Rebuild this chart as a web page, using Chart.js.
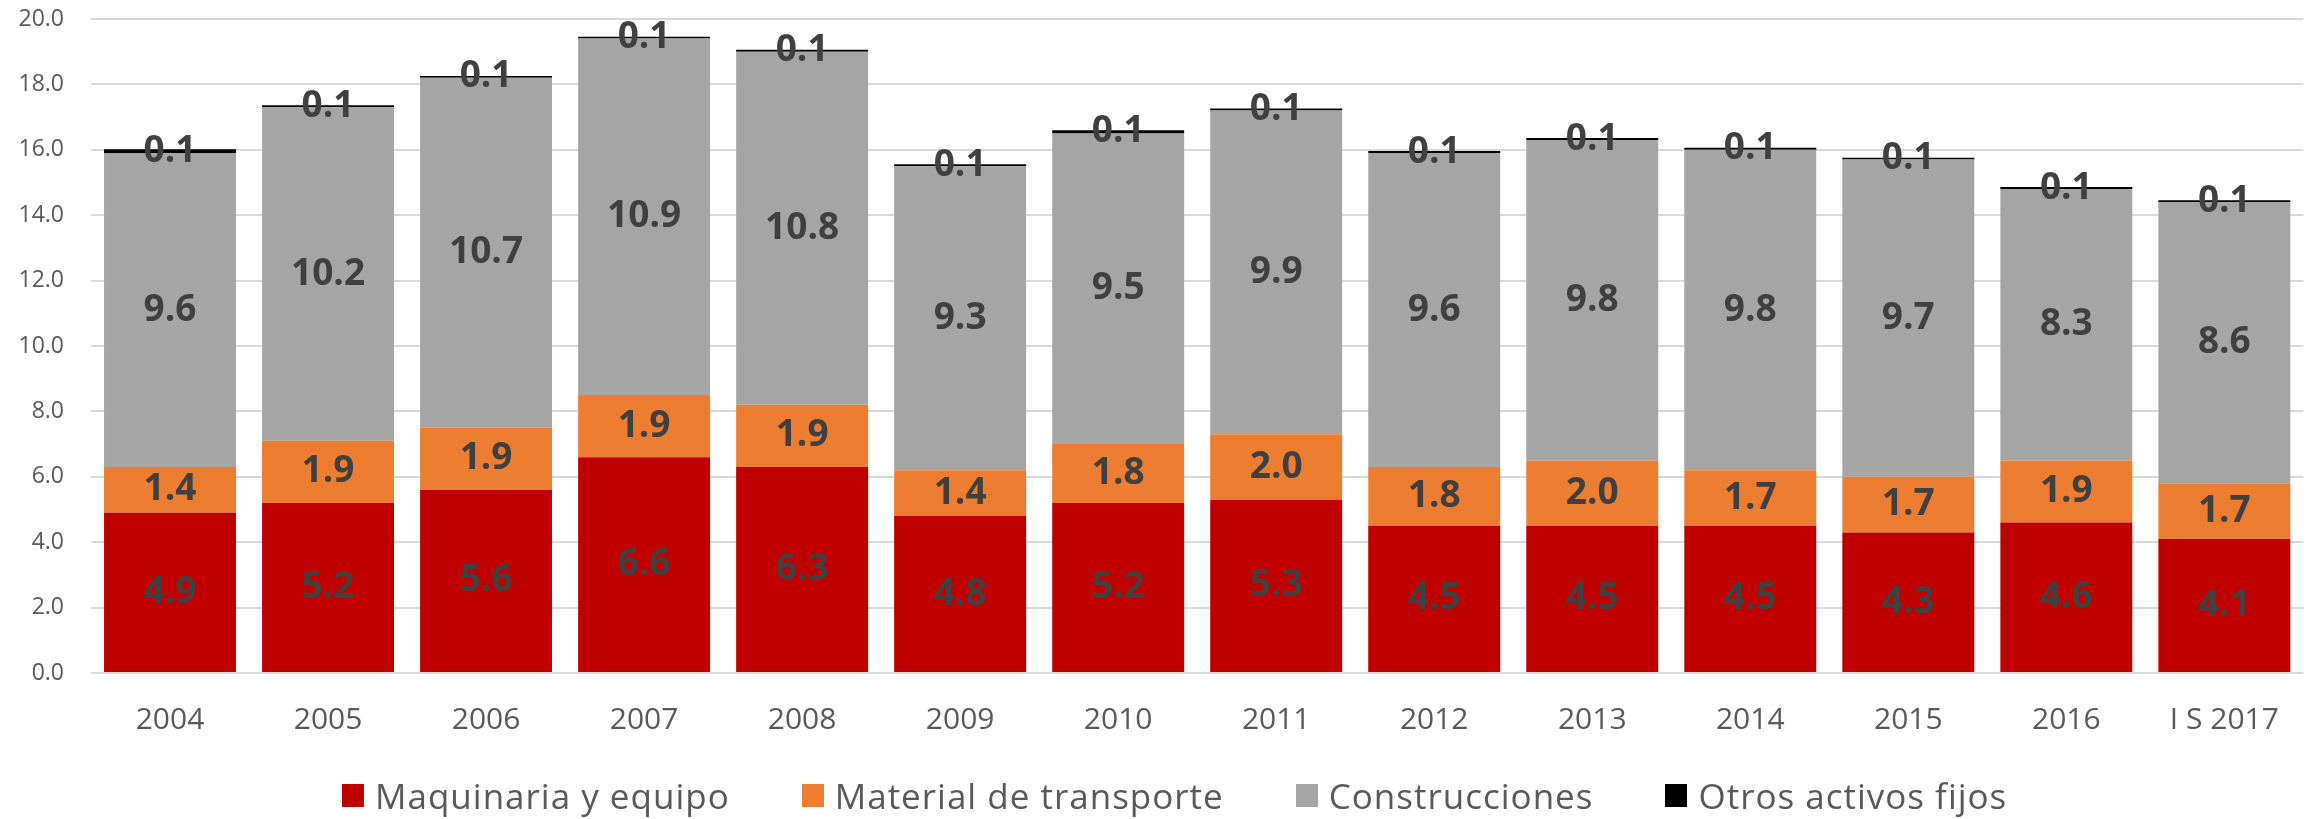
<!DOCTYPE html>
<html>
<head>
<meta charset="utf-8">
<script src="https://cdn.jsdelivr.net/npm/chart.js@4"></script>
<style>
  body { margin: 0; background: #fff; }
  #wrap { position: relative; width: 2308px; height: 819px; }
  #legend {
    position: absolute; left: 342px; top: 772px;
    display: flex; align-items: center; gap: 72px;
    font-family: "Open Sans", sans-serif; font-size: 35px; letter-spacing: 1px; color: #595959;
    white-space: nowrap;
  }
  #legend .item { display: flex; align-items: center; }
  #legend .box { width: 22px; height: 23px; margin-right: 11px; }
</style>
</head>
<body>
<div id="wrap">
  <canvas id="chart" width="2308" height="819"></canvas>
  <div id="legend"></div>
</div>
<script>
const years = ["2004", "2005", "2006", "2007", "2008", "2009", "2010", "2011", "2012", "2013", "2014", "2015", "2016", "I S 2017"];
const maquinaria = [4.9, 5.2, 5.6, 6.6, 6.3, 4.8, 5.2, 5.3, 4.5, 4.5, 4.5, 4.3, 4.6, 4.1];
const transporte = [1.4, 1.9, 1.9, 1.9, 1.9, 1.4, 1.8, 2.0, 1.8, 2.0, 1.7, 1.7, 1.9, 1.7];
const construcciones = [9.6, 10.2, 10.7, 10.9, 10.8, 9.3, 9.5, 9.9, 9.6, 9.8, 9.8, 9.7, 8.3, 8.6];
const otros = [0.12, 0.06, 0.06, 0.06, 0.06, 0.06, 0.1, 0.06, 0.06, 0.06, 0.06, 0.06, 0.06, 0.06];
const yTicks = [0, 2, 4, 6, 8, 10, 12, 14, 16, 18, 20];

const seriesNames = ["Maquinaria y equipo", "Material de transporte", "Construcciones", "Otros activos fijos"];
const seriesColors = ["#C00000", "#ED7D31", "#A5A5A5", "#000000"];

// value labels in the middle of every segment
const barLabels = {
  id: "barLabels",
  afterDatasetsDraw(chart) {
    const ctx = chart.ctx;
    ctx.save();
    ctx.font = "bold 37px 'Open Sans'";
    ctx.fillStyle = "#404040";
    ctx.textAlign = "center";
    ctx.textBaseline = "middle";
    chart.data.datasets.forEach((ds, i) => {
      chart.getDatasetMeta(i).data.forEach((bar, j) => {
        const p = bar.getProps(["x", "y", "base"], true);
        ctx.fillText(ds.data[j].toFixed(1), p.x, (p.y + p.base) / 2);
      });
    });
    ctx.restore();
  }
};

const data = [maquinaria, transporte, construcciones, otros];

const chart = new Chart(document.getElementById("chart"), {
  type: "bar",
  data: {
    labels: years,
    datasets: data.map((d, i) => ({
      label: seriesNames[i],
      data: d,
      backgroundColor: seriesColors[i],
      borderWidth: 0,
      barPercentage: 0.835,
      categoryPercentage: 1
    }))
  },
  options: {
    responsive: false,
    animation: false,
    layout: { padding: { top: 19, right: 4, left: 0, bottom: 0 } },
    plugins: { legend: { display: false }, tooltip: { enabled: false } },
    scales: {
      x: {
        stacked: true,
        grid: { display: false, drawTicks: false },
        border: { display: false },
        ticks: { color: "#595959", font: { family: "Open Sans", size: 30 }, padding: 29 },
        afterFit: s => { s.height = 146; }
      },
      y: {
        stacked: true,
        min: 0,
        max: 20,
        afterBuildTicks: s => { s.ticks = yTicks.map(v => ({ value: v })); },
        ticks: {
          color: "#595959",
          font: { family: "Open Sans", size: 23 },
          padding: 27,
          callback: v => Number(v).toFixed(1)
        },
        grid: { color: "#D9D9D9", lineWidth: 2, drawTicks: false },
        border: { display: false },
        afterFit: s => { s.width = 91; s.paddingTop = 12; s.paddingBottom = 0; }
      }
    }
  },
  plugins: [barLabels]
});

const legend = document.getElementById("legend");
chart.data.datasets.forEach(ds => {
  const item = document.createElement("div");
  item.className = "item";
  const box = document.createElement("span");
  box.className = "box";
  box.style.background = ds.backgroundColor;
  const txt = document.createElement("span");
  txt.textContent = ds.label;
  item.appendChild(box);
  item.appendChild(txt);
  legend.appendChild(item);
});
</script>
</body>
</html>
